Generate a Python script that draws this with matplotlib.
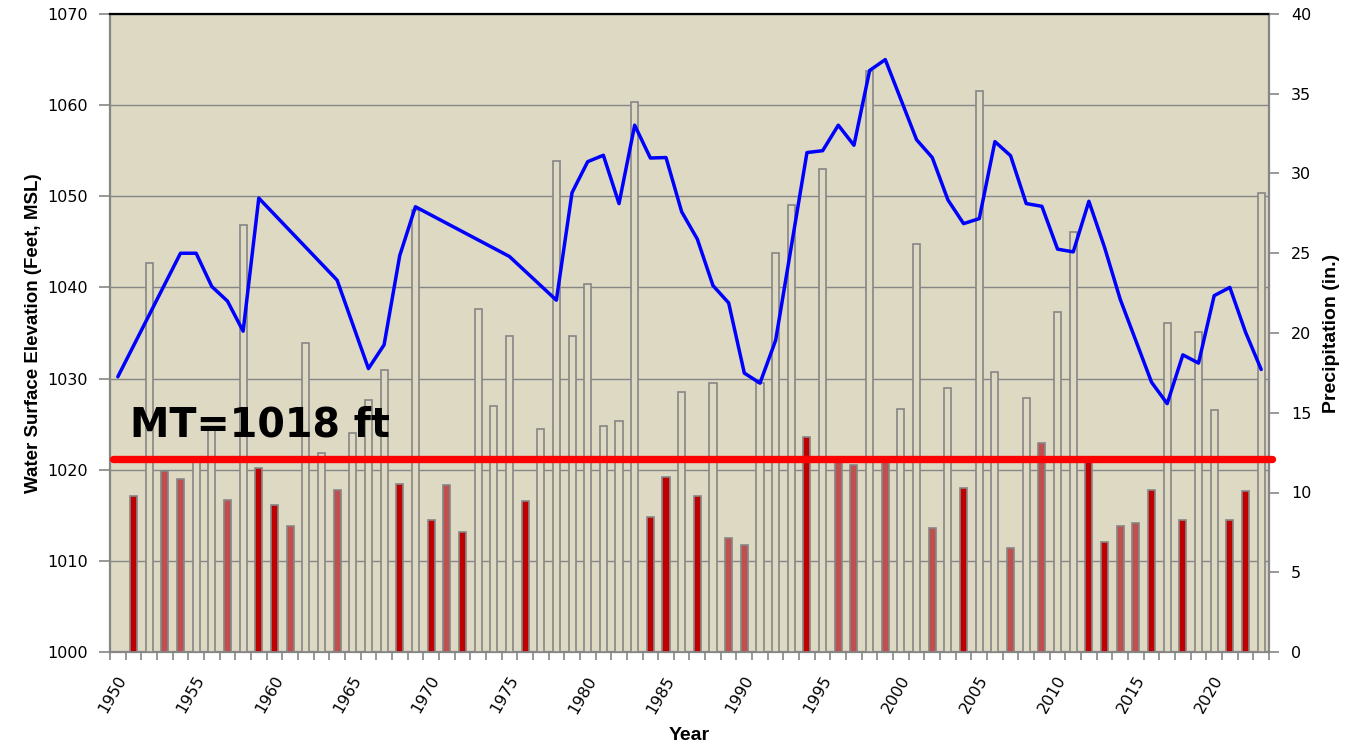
import numpy as np
import matplotlib
matplotlib.use("Agg")
import matplotlib.pyplot as plt
from matplotlib.ticker import MultipleLocator, FixedLocator
from matplotlib.transforms import ScaledTranslation

# ---------------- data ----------------
years = list(range(1950, 2024))

precip_in = [
    np.nan, 9.75, 24.4, 11.35, 10.85, 12.2, 14.05, 9.5, 26.8, 11.55,      # 1950-1959
    9.2, 7.9, 19.35, 12.45, 10.15, 13.7, 15.8, 17.7, 10.55, 27.7,          # 1960-1969
    8.3, 10.5, 7.55, 21.5, 15.45, 19.8, 9.45, 14.0, 30.8, 19.8,            # 1970-1979
    23.05, 14.15, 14.5, 34.5, 8.45, 10.95, 16.3, 9.77, 16.85, 7.15,        # 1980-1989
    6.7, 16.85, 25.0, 28.0, 13.45, 30.3, 12.0, 11.75, 36.45, 12.0,         # 1990-1999
    15.25, 25.6, 7.8, 16.55, 10.28, 35.15, 17.58, 6.55, 15.9, 13.1,        # 2000-2009
    21.3, 26.35, 12.0, 6.9, 7.9, 8.1, 10.15, 20.6, 8.25, 20.05,            # 2010-2019
    15.15, 8.3, 10.1, 28.75,                                               # 2020-2023
]

elevation_ft = [
    1030.2, np.nan, np.nan, np.nan, 1043.75, 1043.75, 1040.1, 1038.5, 1035.2, 1049.8,   # 1950-1959
    np.nan, np.nan, np.nan, np.nan, 1040.8, np.nan, 1031.1, 1033.7, 1043.5, 1048.85,     # 1960-1969
    np.nan, np.nan, np.nan, np.nan, np.nan, 1043.4, np.nan, np.nan, 1038.6, 1050.4,      # 1970-1979
    1053.8, 1054.5, 1049.2, 1057.8, 1054.2, 1054.25, 1048.3, 1045.3, 1040.2, 1038.3,     # 1980-1989
    1030.6, 1029.5, 1034.2, np.nan, 1054.8, 1055.0, 1057.8, 1055.6, 1063.8, 1065.0,      # 1990-1999
    np.nan, 1056.2, 1054.25, 1049.6, 1047.0, 1047.55, 1056.0, 1054.45, 1049.2, 1048.9,   # 2000-2009
    1044.2, 1043.9, 1049.45, 1044.4, 1038.7, np.nan, 1029.6, 1027.25, 1032.6, 1031.7,    # 2010-2019
    1039.1, 1040.0, 1035.1, 1031.0,                                                      # 2020-2023
]

dark_red_years = [1951, 1959, 1960, 1968, 1970, 1972, 1976, 1984, 1985, 1987, 1994,
                  2004, 2012, 2013, 2016, 2018, 2021, 2022]
light_red_years = [1953, 1954, 1957, 1961, 1964, 1971, 1989, 1990, 1996, 1997, 1999,
                   2002, 2007, 2009, 2014, 2015]

label_years = list(range(1950, 2021, 5))
mt_line_ft = 1021.15
mt_text = "MT=1018 ft"

# ---------------- figure ----------------
W, H = 1362, 748
fig = plt.figure(figsize=(W / 100, H / 100), dpi=100)
fig.patch.set_facecolor("white")
rect = [110 / W, (H - 652) / H, 1159 / W, 638 / H]

BG = "#DDD9C3"
GRID = "#868686"

ax = fig.add_axes(rect)
ax.set_facecolor(BG)
ax.set_xlim(1949.5, 2023.5)
ax.set_ylim(1000, 1070)
ax.yaxis.set_major_locator(MultipleLocator(10))
ax.grid(axis="y", color=GRID, lw=1.0)
ax.grid(axis="x", visible=False)
ax.set_axisbelow(True)

# x ticks: boundary ticks (minor) + labels every 5 years
ax.xaxis.set_minor_locator(FixedLocator(np.arange(1949.5, 2024.0, 1.0)))
ax.set_xticks(label_years)
ax.set_xticklabels([str(y) for y in label_years], rotation=60, ha="right",
                   va="center", rotation_mode="anchor", fontsize=11.5,
                   family="DejaVu Sans")
ax.tick_params(axis="x", which="major", length=0, pad=18)
ax.tick_params(axis="x", which="minor", length=6, color=GRID, width=1.2, direction="out")
for lab in ax.get_xticklabels():
    lab.set_transform(lab.get_transform() + ScaledTranslation(5 / 100, 0, fig.dpi_scale_trans))

ax.tick_params(axis="y", which="major", length=8, color=GRID, width=1.2,
               direction="out", pad=8, labelsize=11.5)
for t in ax.get_yticklabels():
    t.set_family("DejaVu Sans")

for side in ["left", "bottom", "right"]:
    ax.spines[side].set_color(GRID)
    ax.spines[side].set_linewidth(1.6)
ax.spines["top"].set_color("black")
ax.spines["top"].set_linewidth(1.6)

ax.set_xlabel("Year", fontsize=14, fontweight="bold", family="Liberation Sans", labelpad=8)
ax.set_ylabel("Water Surface Elevation (Feet, MSL)", fontsize=13.5, fontweight="bold",
              family="Liberation Sans", labelpad=3.5)

# ---------------- precipitation bars (secondary axis) ----------------
ax2 = ax.twinx()
ax2.set_ylim(0, 40)
ax2.yaxis.set_major_locator(MultipleLocator(5))
ax2.tick_params(axis="y", length=7, color=GRID, width=1.2, direction="out",
                pad=9, labelsize=11.5)
for s in ax2.spines.values():
    s.set_visible(False)
ax2.set_ylabel("Precipitation (in.)", fontsize=14, fontweight="bold",
               family="Liberation Sans", labelpad=8)

bx, bh, bc = [], [], []
for y, p in zip(years, precip_in):
    if np.isnan(p):
        continue
    bx.append(y)
    bh.append(p)
    if y in dark_red_years:
        bc.append("#C00000")
    elif y in light_red_years:
        bc.append("#C0504D")
    else:
        bc.append(BG)
ax2.bar(bx, bh, width=0.45, color=bc, edgecolor=GRID, linewidth=1.2, zorder=2)

# ---------------- elevation line on top ----------------
ax3 = fig.add_axes(rect, sharex=ax, sharey=ax)
ax3.set_axis_off()
ex = [y for y, e in zip(years, elevation_ft) if not np.isnan(e)]
ey = [e for e in elevation_ft if not np.isnan(e)]
ax3.plot(ex, ey, color="#0000FF", lw=2.5, solid_joinstyle="round",
         solid_capstyle="round", zorder=3)

# minimum threshold line + label
ax3.plot([1949.7, 2023.7], [mt_line_ft, mt_line_ft], color="#FF0000", lw=5.3,
         solid_capstyle="round", clip_on=False, zorder=4)
ax3.text(1950.8, 1023.6, mt_text, fontsize=28.5, fontweight="bold",
         family="DejaVu Sans", ha="left", va="baseline", color="black", zorder=5)

fig.savefig("out.png", dpi=100, facecolor="white")
